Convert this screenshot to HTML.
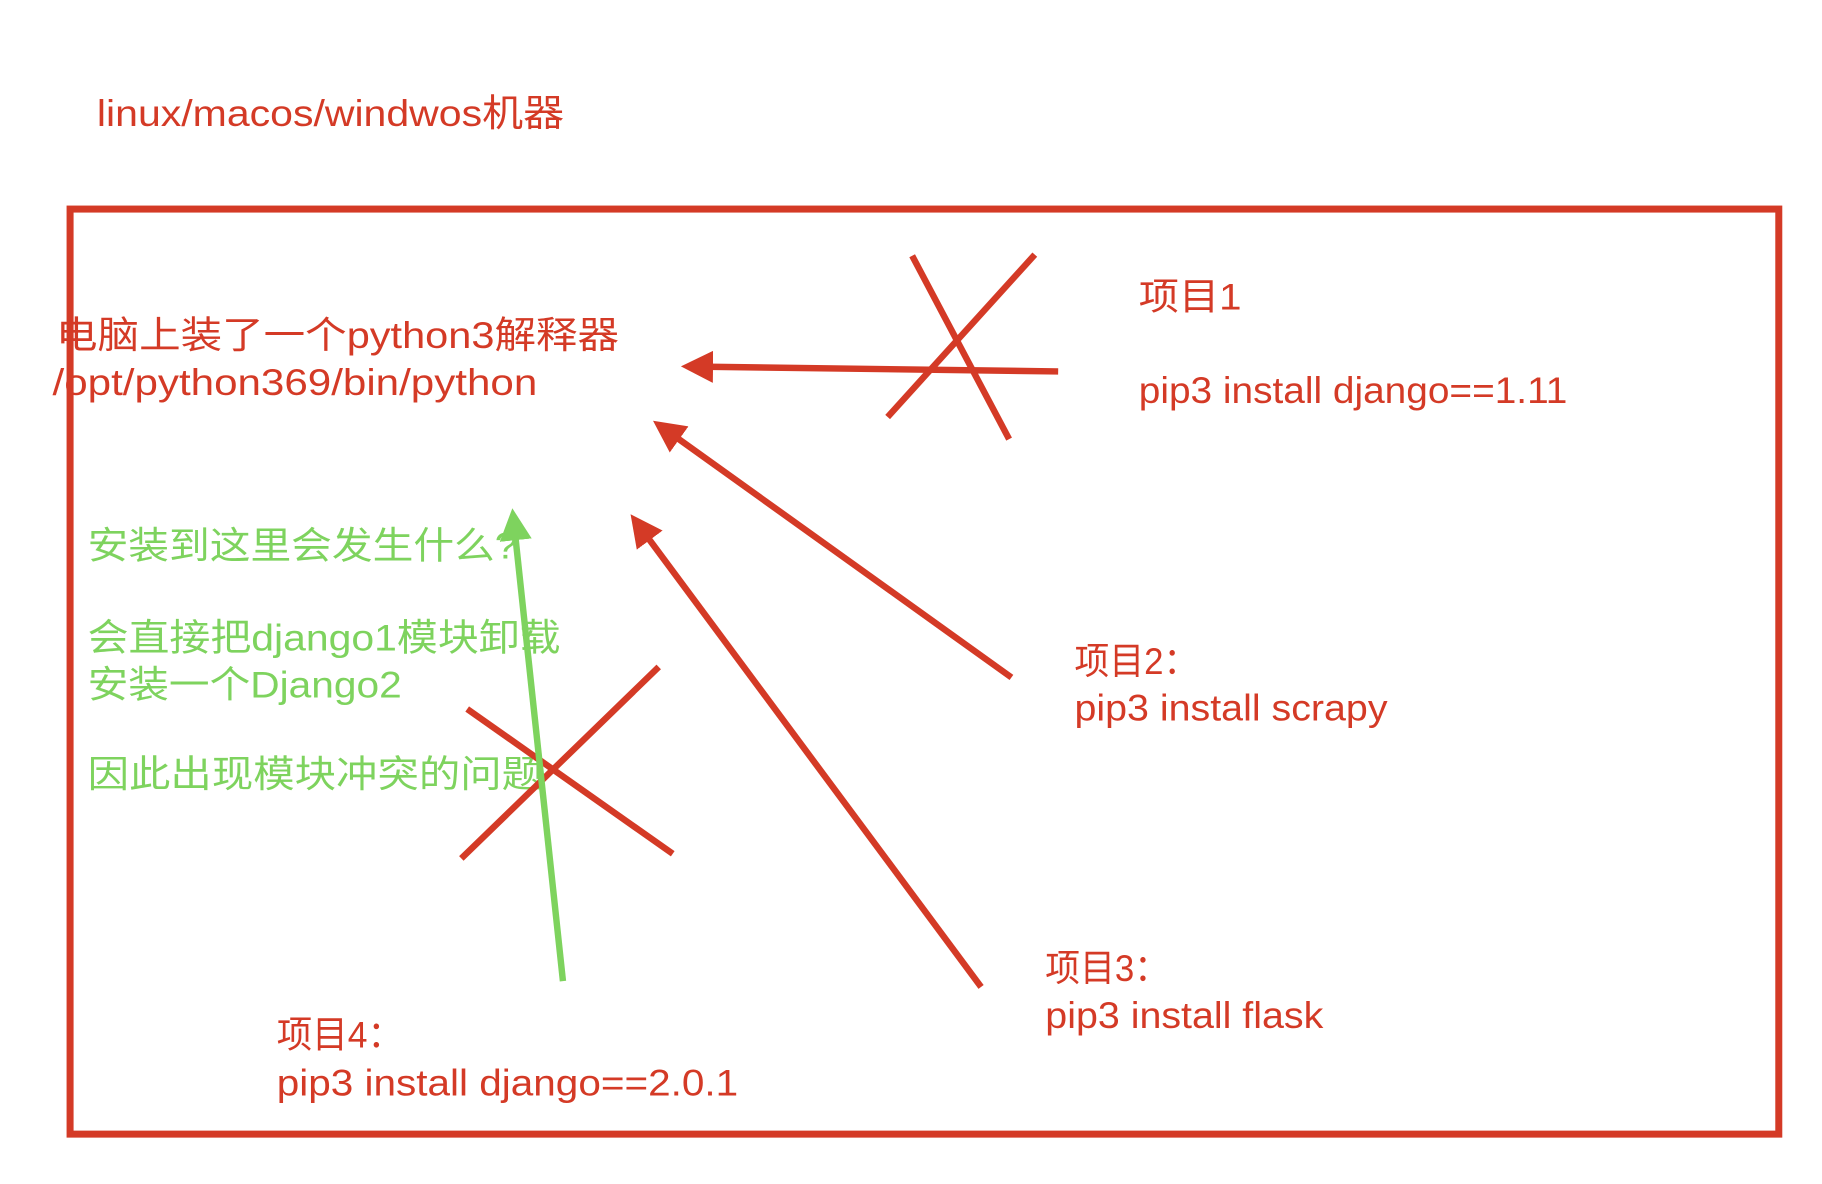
<!DOCTYPE html>
<html><head><meta charset="utf-8"><style>
html,body{margin:0;padding:0;background:#fff;}
svg{display:block;}
text{font-family:"Liberation Sans","Noto Sans CJK SC",sans-serif;font-size:32px;}
.r{fill:#d43a26;}
.g{fill:#7ed35e;}
</style></head><body>
<svg width="1822" height="1184" viewBox="0 0 1560 1013.7" preserveAspectRatio="none" xmlns="http://www.w3.org/2000/svg">
<defs>
<marker id="ar" viewBox="0 0 10 10" refX="2" refY="5" markerWidth="5" markerHeight="5" orient="auto-start-reverse" markerUnits="strokeWidth"><path d="M0,0 L10,5 L0,10 z" fill="#d43a26"/></marker>
<marker id="ag" viewBox="0 0 10 10" refX="2" refY="5" markerWidth="5" markerHeight="5" orient="auto-start-reverse" markerUnits="strokeWidth"><path d="M0,0 L10,5 L0,10 z" fill="#7ed35e"/></marker>
</defs>
<g lengthAdjust="spacingAndGlyphs">
<text class="r" x="83" y="108" textLength="400" lengthAdjust="spacingAndGlyphs">linux/macos/windwos机器</text>
<text class="r" x="48" y="298" textLength="482" lengthAdjust="spacingAndGlyphs">电脑上装了一个python3解释器</text>
<text class="r" x="45" y="338" textLength="415" lengthAdjust="spacingAndGlyphs">/opt/python369/bin/python</text>
<text class="r" x="975" y="265" textLength="88" lengthAdjust="spacingAndGlyphs">项目1</text>
<text class="r" x="975" y="345" textLength="367" lengthAdjust="spacingAndGlyphs">pip3 install django==1.11</text>
<text class="r" x="920" y="577" textLength="106" lengthAdjust="spacingAndGlyphs">项目2：</text>
<text class="r" x="920" y="617" textLength="268" lengthAdjust="spacingAndGlyphs">pip3 install scrapy</text>
<text class="r" x="895" y="840" textLength="106" lengthAdjust="spacingAndGlyphs">项目3：</text>
<text class="r" x="895" y="880" textLength="238" lengthAdjust="spacingAndGlyphs">pip3 install flask</text>
<text class="r" x="237" y="897" textLength="108" lengthAdjust="spacingAndGlyphs">项目4：</text>
<text class="r" x="237" y="938" textLength="395" lengthAdjust="spacingAndGlyphs">pip3 install  django==2.0.1</text>
<text class="g" x="75" y="478" textLength="368" lengthAdjust="spacingAndGlyphs">安装到这里会发生什么?</text>
<text class="g" x="75" y="557" textLength="405" lengthAdjust="spacingAndGlyphs">会直接把django1模块卸载</text>
<text class="g" x="75" y="597" textLength="269" lengthAdjust="spacingAndGlyphs">安装一个Django2</text>
<text class="g" x="75" y="674" textLength="390" lengthAdjust="spacingAndGlyphs">因此出现模块冲突的问题</text>
</g>
<rect x="60" y="179" width="1463" height="792" fill="none" stroke="#d43a26" stroke-width="6"/>
<g stroke="#d43a26" stroke-width="5.5" fill="none">
<line x1="906" y1="318" x2="605" y2="314" marker-end="url(#ar)"/>
<line x1="781" y1="219" x2="864" y2="376"/>
<line x1="886" y1="218" x2="760" y2="357"/>
<line x1="866" y1="580" x2="577" y2="373" marker-end="url(#ar)"/>
<line x1="840" y1="845" x2="553" y2="458" marker-end="url(#ar)"/>
<line x1="400" y1="607" x2="576" y2="731"/>
<line x1="564" y1="571" x2="395" y2="735"/>
</g>
<line x1="482" y1="840" x2="441" y2="457" stroke="#7ed35e" stroke-width="5.5" marker-end="url(#ag)"/>
</svg>
</body></html>
